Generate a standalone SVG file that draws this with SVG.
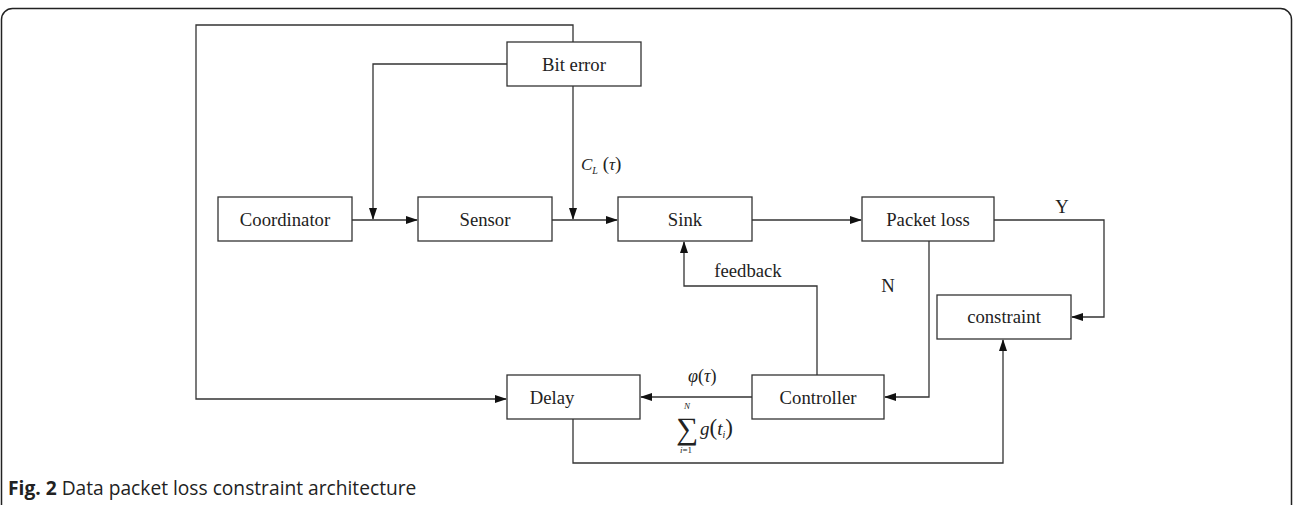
<svg xmlns="http://www.w3.org/2000/svg" width="1293" height="505" viewBox="0 0 1293 505">
<style>
.box{fill:#fff;stroke:#333;stroke-width:1.3}
.ln{fill:none;stroke:#333;stroke-width:1.3}
.t{font-family:"Liberation Serif","Times New Roman",serif;font-size:18.7px;fill:#222;text-anchor:middle}
.m{font-family:"Liberation Serif","Times New Roman",serif;font-style:italic;fill:#222}
.r{font-family:"Liberation Serif","Times New Roman",serif;fill:#222}
.cap{font-family:"Open Sans",sans-serif;font-size:19.2px;fill:#222}
</style>
<defs>
<marker id="ah" markerWidth="12" markerHeight="8" refX="11" refY="4" orient="auto" markerUnits="userSpaceOnUse">
<path d="M0,0 L12,4 L0,8 Z" fill="#111"/>
</marker>
</defs>
<rect x="1.5" y="8.5" width="1290" height="520" rx="11" fill="none" stroke="#222" stroke-width="1.5"/>
<g id="connectors">
<path class="ln" d="M573,42 V25 H196 V399 H506" marker-end="url(#ah)"/>
<path class="ln" d="M507,64 H373 V219" marker-end="url(#ah)"/>
<path class="ln" d="M573,86 V219" marker-end="url(#ah)"/>
<path class="ln" d="M352,220 H417" marker-end="url(#ah)"/>
<path class="ln" d="M552,220 H617" marker-end="url(#ah)"/>
<path class="ln" d="M752,220 H861" marker-end="url(#ah)"/>
<path class="ln" d="M994,220 H1104 V317 H1072" marker-end="url(#ah)"/>
<path class="ln" d="M929,241 V397 H885" marker-end="url(#ah)"/>
<path class="ln" d="M752,397 H641" marker-end="url(#ah)"/>
<path class="ln" d="M817,375 V286 H684 V242" marker-end="url(#ah)"/>
<path class="ln" d="M573,419 V463 H1003 V340" marker-end="url(#ah)"/>
<text class="m" x="581" y="170" font-size="17">C<tspan font-size="10" dy="4">L</tspan><tspan dy="-4" font-style="normal" font-size="19"> (</tspan>τ<tspan font-style="normal" font-size="19">)</tspan></text>
<text class="r" x="1062" y="213" font-size="18.7" text-anchor="middle">Y</text>
<text class="r" x="888" y="292" font-size="18.7" text-anchor="middle">N</text>
<text class="r" x="748" y="277" font-size="18.7" text-anchor="middle">feedback</text>
<text class="m" x="688" y="382" font-size="18">φ<tspan font-style="normal">(</tspan>τ<tspan font-style="normal">)</tspan></text>
<text class="r" x="676" y="439" font-size="31">∑</text>
<text class="m" x="684" y="409" font-size="9">N</text>
<text class="m" x="680" y="453" font-size="9">i<tspan font-style="normal">=1</tspan></text>
<text class="m" x="700" y="435" font-size="19">g<tspan font-style="normal" font-size="23">(</tspan>t<tspan font-size="10" dy="3">i</tspan><tspan dy="-3" font-style="normal" font-size="23">)</tspan></text>
</g>
<g id="biterror"><rect class="box" x="507" y="42" width="134" height="44"/><text class="t" x="574" y="71">Bit error</text></g>
<g id="coordinator"><rect class="box" x="218" y="197" width="134" height="44"/><text class="t" x="285" y="226">Coordinator</text></g>
<g id="sensor"><rect class="box" x="418" y="197" width="134" height="44"/><text class="t" x="485" y="226">Sensor</text></g>
<g id="sink"><rect class="box" x="618" y="197" width="134" height="44"/><text class="t" x="685" y="226">Sink</text></g>
<g id="packetloss"><rect class="box" x="862" y="197" width="132" height="44"/><text class="t" x="928" y="226">Packet loss</text></g>
<g id="constraint"><rect class="box" x="937" y="295" width="134" height="44"/><text class="t" x="1004" y="323">constraint</text></g>
<g id="controller"><rect class="box" x="752" y="375" width="132" height="44"/><text class="t" x="818" y="404">Controller</text></g>
<g id="delay"><rect class="box" x="507" y="375" width="133" height="44"/><text class="t" x="552" y="404">Delay</text></g>
<text class="cap" x="8" y="495"><tspan font-weight="bold">Fig. 2</tspan> Data packet loss constraint architecture</text>
</svg>
